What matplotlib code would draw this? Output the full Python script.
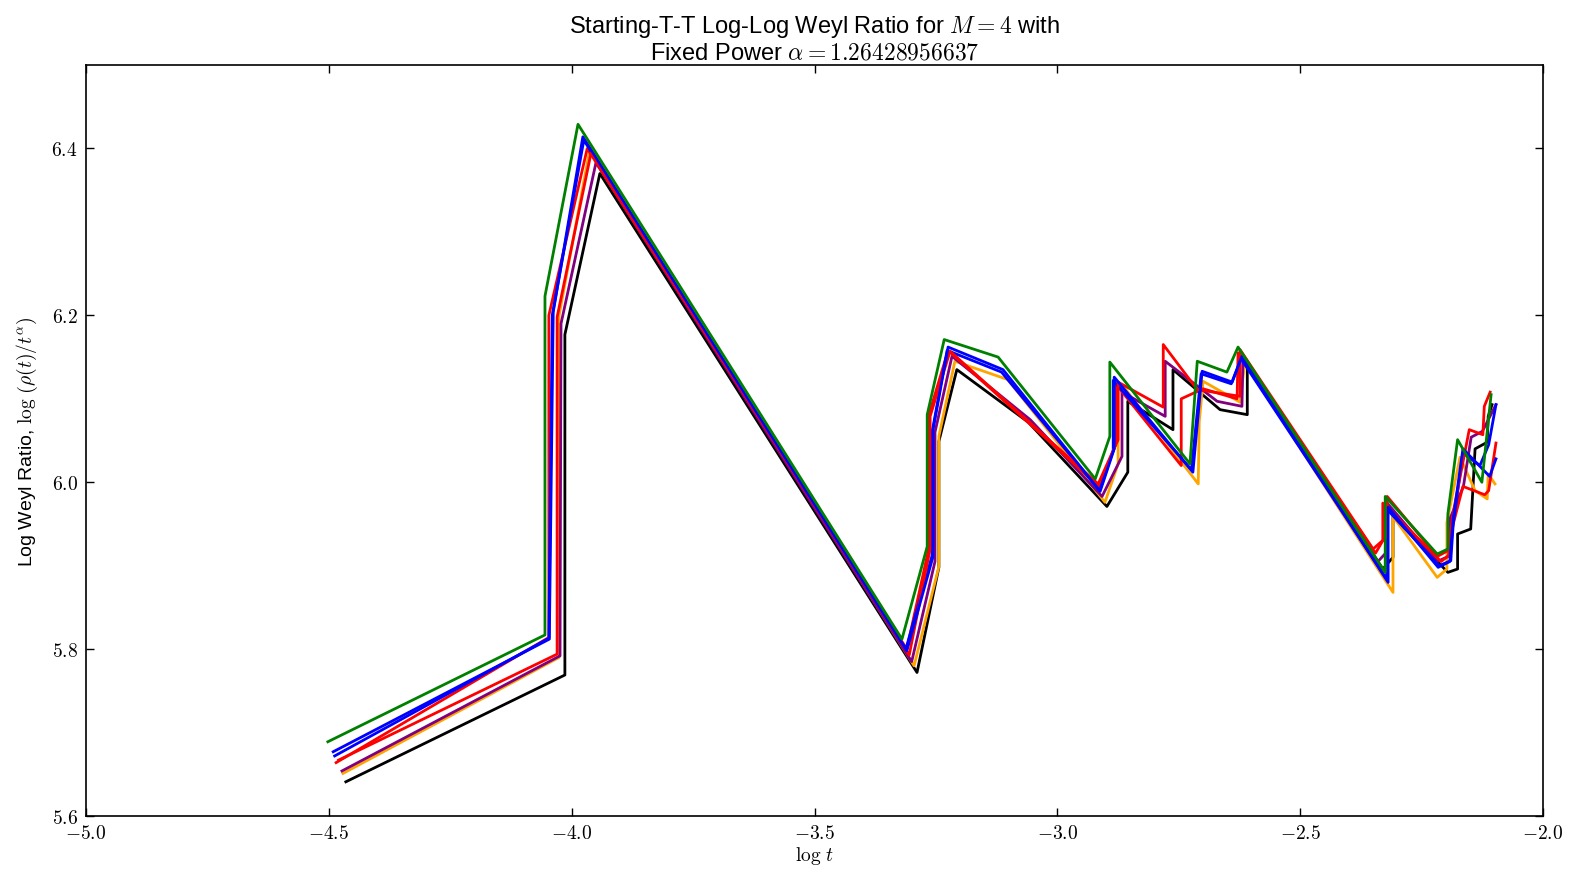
"""Starting-T-T log-log Weyl ratio curves, M = 4."""

import matplotlib

matplotlib.use("Agg")
import matplotlib.pyplot as plt
from matplotlib.ticker import FuncFormatter, MultipleLocator

plt.rcParams["mathtext.fontset"] = "cm"
plt.rcParams["font.family"] = ["Liberation Sans", "DejaVu Sans"]

# Curves, (log t, log ratio) vertices
x_black = [-4.465, -4.014, -4.014, -3.942, -3.289, -3.244, -3.244, -3.207, -3.060,
           -2.898, -2.855, -2.855, -2.762, -2.762, -2.665, -2.609, -2.609, -2.330,
           -2.309, -2.309, -2.196, -2.176, -2.176, -2.149, -2.140, -2.115, -2.113,
           -2.105]
y_black = [5.641, 5.769, 6.177, 6.370, 5.772, 5.898, 6.049, 6.135, 6.072,
           5.971, 6.012, 6.097, 6.063, 6.135, 6.087, 6.081, 6.138, 5.896,
           5.910, 5.960, 5.892, 5.896, 5.938, 5.944, 6.040, 6.048, 6.079,
           6.093]

x_orange = [-4.471, -4.026, -4.026, -3.962, -3.295, -3.244, -3.244, -3.211, -3.102,
            -2.902, -2.875, -2.875, -2.867, -2.710, -2.708, -2.700, -2.624, -2.614,
            -2.309, -2.309, -2.218, -2.198, -2.198, -2.171, -2.140, -2.115, -2.113,
            -2.099]
y_orange = [5.651, 5.790, 6.200, 6.401, 5.780, 5.899, 6.055, 6.145, 6.123,
            5.976, 6.022, 6.111, 6.117, 5.998, 6.072, 6.121, 6.096, 6.144,
            5.868, 5.959, 5.886, 5.896, 5.952, 6.030, 5.990, 5.980, 6.010,
            5.998]

x_purple = [-4.473, -4.024, -4.022, -3.950, -3.300, -3.252, -3.252, -3.217, -3.056,
            -2.908, -2.867, -2.867, -2.778, -2.778, -2.671, -2.620, -2.618, -2.340,
            -2.321, -2.321, -2.218, -2.192, -2.192, -2.164, -2.148, -2.125, -2.097]
y_purple = [5.654, 5.792, 6.190, 6.383, 5.785, 5.905, 6.060, 6.151, 6.075,
            5.983, 6.031, 6.108, 6.079, 6.145, 6.097, 6.091, 6.147, 5.905,
            5.917, 5.975, 5.905, 5.912, 5.956, 5.995, 6.054, 6.061, 6.093]

x_red = [-4.480, -4.030, -4.030, -3.960, -3.305, -3.262, -3.262, -3.221, -2.916,
         -2.875, -2.875, -2.782, -2.782, -2.712, -2.624, -2.624, -2.350, -2.321,
         -2.321, -2.218, -2.196, -2.185, -2.152, -2.124, -2.121, -2.109]
y_red = [5.667, 5.794, 6.198, 6.395, 5.793, 5.920, 6.079, 6.157, 5.998,
         6.051, 6.120, 6.090, 6.165, 6.111, 6.103, 6.159, 5.920, 5.935,
         5.983, 5.911, 5.918, 5.964, 6.063, 6.057, 6.091, 6.108]

x_red2 = [-4.485, -4.047, -4.047, -3.968, -3.310, -3.265, -3.265, -3.225, -2.914,
          -2.880, -2.880, -2.745, -2.745, -2.700, -2.630, -2.628, -2.345, -2.330,
          -2.330, -2.210, -2.195, -2.185, -2.165, -2.120, -2.112, -2.097]
y_red2 = [5.664, 5.814, 6.200, 6.400, 5.800, 5.920, 6.080, 6.158, 5.995,
          6.045, 6.118, 6.020, 6.100, 6.112, 6.100, 6.155, 5.915, 5.930,
          5.975, 5.905, 5.912, 5.950, 5.995, 5.985, 5.990, 6.047]

x_blue = [-4.491, -4.046, -4.038, -3.977, -3.310, -3.256, -3.256, -3.225, -3.112,
          -2.912, -2.883, -2.883, -2.721, -2.702, -2.640, -2.620, -2.319, -2.319,
          -2.216, -2.192, -2.185, -2.165, -2.110, -2.097]
y_blue = [5.677, 5.812, 6.204, 6.414, 5.798, 5.911, 6.063, 6.162, 6.135,
          5.989, 6.040, 6.126, 6.012, 6.133, 6.120, 6.151, 5.880, 5.970,
          5.898, 5.905, 5.956, 6.040, 6.007, 6.028]

x_blue2 = [-4.488, -4.047, -4.040, -3.975, -3.312, -3.258, -3.258, -3.227, -3.115,
           -2.913, -2.885, -2.885, -2.724, -2.704, -2.642, -2.622, -2.322, -2.322,
           -2.214, -2.190, -2.185, -2.165, -2.130, -2.112, -2.097]
y_blue2 = [5.672, 5.813, 6.200, 6.410, 5.800, 5.912, 6.060, 6.158, 6.132,
           5.990, 6.038, 6.122, 6.015, 6.130, 6.118, 6.148, 5.884, 5.968,
           5.900, 5.906, 5.950, 6.035, 6.020, 6.045, 6.093]

x_green = [-4.502, -4.055, -4.055, -3.987, -3.320, -3.268, -3.268, -3.233, -3.122,
           -2.922, -2.892, -2.892, -2.727, -2.712, -2.651, -2.628, -2.325, -2.325,
           -2.218, -2.196, -2.196, -2.176, -2.126, -2.107]
y_green = [5.689, 5.817, 6.223, 6.429, 5.812, 5.923, 6.081, 6.171, 6.150,
           6.004, 6.055, 6.144, 6.022, 6.145, 6.132, 6.162, 5.892, 5.983,
           5.914, 5.920, 5.962, 6.051, 6.000, 6.105]

series = [
    (x_black, y_black, "black"),
    (x_orange, y_orange, "orange"),
    (x_purple, y_purple, "purple"),
    (x_red2, y_red2, "red"),
    (x_blue2, y_blue2, "blue"),
    (x_red, y_red, "red"),
    (x_blue, y_blue, "blue"),
    (x_green, y_green, "green"),
]

fig = plt.figure(figsize=(15.72, 8.70), dpi=100)
ax = fig.add_axes([0.0547, 0.0609, 0.9269, 0.8632])

for xs, ys, c in series:
    ax.plot(xs, ys, color=c, linewidth=2.0)

ax.set_xlim(-5.0, -2.0)
ax.set_ylim(5.6, 6.5)
ax.xaxis.set_major_locator(MultipleLocator(0.5))
ax.yaxis.set_major_locator(MultipleLocator(0.2))
fmt = FuncFormatter(lambda v, _: r"$%.1f$" % v)
ax.xaxis.set_major_formatter(fmt)
ax.yaxis.set_major_formatter(fmt)
ax.tick_params(direction="in", length=6, width=1, top=True, right=True,
               labelsize=14, pad=6)
for s in ax.spines.values():
    s.set_linewidth(1.2)

ax.set_xlabel(r"$\log\,t$", fontsize=14, labelpad=1)
ax.set_ylabel(r"Log Weyl Ratio, $\log\,\left(\rho(t)/t^{\alpha}\right)$",
              fontsize=14, labelpad=8)
ax.set_title("Starting-T-T Log-Log Weyl Ratio for $M = 4$ with\n"
             r"Fixed Power $\alpha = 1.26428956637$", fontsize=17, pad=5,
             linespacing=1.1)

fig.savefig("out.png", dpi=100)
